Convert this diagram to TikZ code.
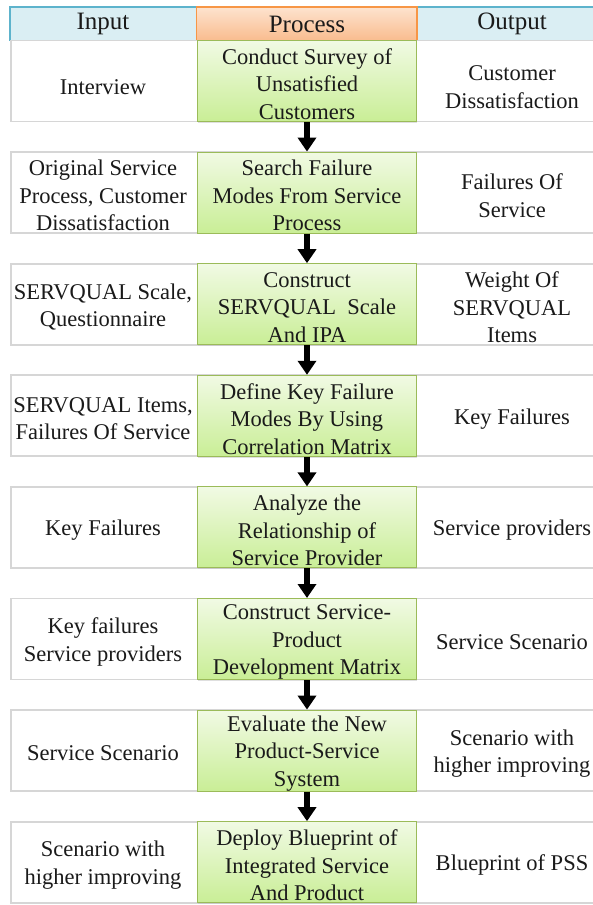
\documentclass[tikz,border=0pt]{standalone}
\usepackage{fontspec}
\setmainfont{Liberation Serif}
\usetikzlibrary{arrows.meta,shadows}
\definecolor{txt}{HTML}{1A1A1A}
\definecolor{hdrblue}{HTML}{DAEEF3}
\definecolor{hdrblueline}{HTML}{5DB3CC}
\definecolor{hdrorangetop}{HTML}{FDE3CF}
\definecolor{hdrorangebot}{HTML}{F9BC8E}
\definecolor{hdrorangeline}{HTML}{F79646}
\definecolor{proctop}{HTML}{F1FAE4}
\definecolor{procbot}{HTML}{C9EE96}
\definecolor{procline}{HTML}{9BBB59}
\definecolor{rowline}{HTML}{D6D6D6}
\tikzset{
  celltext/.style={text=txt, align=center, inner sep=0pt, yshift=-3pt,
    font=\fontsize{22.5}{27.5}\selectfont},
  hdrtext/.style={text=txt, align=center, inner sep=0pt,
    font=\fontsize{25}{29}\selectfont},
  hdrblue/.style={draw=hdrblueline, fill=hdrblue, line width=1.2pt,
    drop shadow={shadow xshift=0.8pt, shadow yshift=-1.2pt, fill=black!30}},
  hdrorange/.style={draw=hdrorangeline, top color=hdrorangetop,
    bottom color=hdrorangebot, line width=1.2pt,
    drop shadow={shadow xshift=0.8pt, shadow yshift=-1.2pt, fill=black!30}},
  rowbox/.style={draw=rowline, fill=white, line width=1.8pt},
  procbox/.style={draw=procline, top color=proctop, bottom color=procbot,
    line width=1pt, minimum width=219pt, minimum height=81pt,
    drop shadow={shadow xshift=0.8pt, shadow yshift=-1.2pt, fill=black!25}},
  flow/.style={line width=5.5pt, draw=black,
    -{Triangle[width=18pt,length=14pt]}},
}
\begin{document}
\begin{tikzpicture}[x=1pt,y=-1pt]
\useasboundingbox (0,0) rectangle (592,905);

% column headers
\draw[hdrblue] (10,7) rectangle (196.5,40.5);
\draw[hdrblue] (417,7) rectangle (610,40.5);
\draw[hdrorange] (196.5,7) rectangle (417,40.5);
\node[hdrtext] (hin)   at (103,24) {Input};
\node[hdrtext] (hproc) at (307,24) {Process};
\node[hdrtext] (hout)  at (512,24) {Output};

% one white band per step
\foreach \c in {81,192.6,304.2,415.8,527.4,639,750.6,862.2}{
  \draw[rowbox] (11,\c-40.5) rectangle (610,\c+40.5);
}

% process steps
\node[procbox] (p1) at (307,81) {};
\node[procbox] (p2) at (307,192.6) {};
\node[procbox] (p3) at (307,304.2) {};
\node[procbox] (p4) at (307,415.8) {};
\node[procbox] (p5) at (307,527.4) {};
\node[procbox] (p6) at (307,639) {};
\node[procbox] (p7) at (307,750.6) {};
\node[procbox] (p8) at (307,862.2) {};

\node[celltext] (t1) at (p1) {Conduct Survey of\\Unsatisfied\\Customers};
\node[celltext] (t2) at (p2) {Search Failure\\Modes From Service\\Process};
\node[celltext] (t3) at (p3) {Construct\\SERVQUAL\ \ Scale\\And IPA};
\node[celltext] (t4) at (p4) {Define Key Failure\\Modes By Using\\Correlation Matrix};
\node[celltext] (t5) at (p5) {Analyze the\\Relationship of\\Service Provider};
\node[celltext] (t6) at (p6) {Construct Service-\\Product\\Development Matrix};
\node[celltext] (t7) at (p7) {Evaluate the New\\Product-Service\\System};
\node[celltext] (t8) at (p8) {Deploy Blueprint of\\Integrated Service\\And Product};

% inputs
\node[celltext] (i1) at (103,84) {Interview};
\node[celltext] (i2) at (103,192.6) {Original Service\\Process, Customer\\Dissatisfaction};
\node[celltext] (i3) at (103,304.2) {SERVQUAL Scale,\\Questionnaire};
\node[celltext] (i4) at (103,415.8) {SERVQUAL Items,\\Failures Of Service};
\node[celltext] (i5) at (103,527.4) {Key Failures};
\node[celltext] (i6) at (103,639) {Key failures\\Service providers};
\node[celltext] (i7) at (103,750.6) {Service Scenario};
\node[celltext] (i8) at (103,862.2) {Scenario with\\higher improving};

% outputs
\node[celltext] (o1) at (512,84) {Customer\\Dissatisfaction};
\node[celltext] (o2) at (512,192.6) {Failures Of\\Service};
\node[celltext] (o3) at (512,304.2) {Weight Of\\SERVQUAL\\Items};
\node[celltext] (o4) at (512,415.8) {Key Failures};
\node[celltext] (o5) at (512,527.4) {Service providers};
\node[celltext] (o6) at (512,639) {Service Scenario};
\node[celltext] (o7) at (512,750.6) {Scenario with\\higher improving};
\node[celltext] (o8) at (512,862.2) {Blueprint of PSS};

% flow between the process steps
\foreach \a/\b in {p1/p2,p2/p3,p3/p4,p4/p5,p5/p6,p6/p7,p7/p8}{
  \draw[flow] (\a.south) -- (\b.north);
}
\end{tikzpicture}
\end{document}
